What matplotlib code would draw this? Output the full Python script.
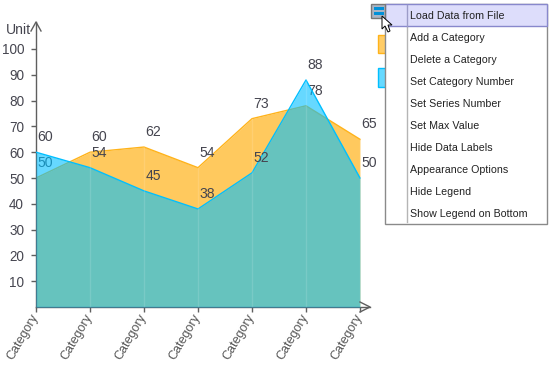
import matplotlib
matplotlib.use('Agg')
import matplotlib.pyplot as plt
from matplotlib.patches import Polygon, Rectangle
from matplotlib.transforms import ScaledTranslation

categories = ['Category'] * 7
orange_values = [50, 60, 62, 54, 73, 78, 65]
blue_values = [60, 54, 45, 38, 52, 88, 50]
y_ticks = [10, 20, 30, 40, 50, 60, 70, 80, 90, 100]
menu_items = ['Load Data from File', 'Add a Category', 'Delete a Category',
              'Set Category Number', 'Set Series Number', 'Set Max Value',
              'Hide Data Labels', 'Appearance Options', 'Hide Legend',
              'Show Legend on Bottom']

W, H = 550, 366
PX = 0.72  # points per pixel at dpi 100
AXIS = '#5f5f5f'
TEXT = '#45454f'

plt.rcParams['font.family'] = ['Liberation Sans', 'DejaVu Sans']

fig = plt.figure(figsize=(W / 100, H / 100), dpi=100, facecolor='white')

# chart area, axis runs from x=36 to x=370 and y=307 to y=22 in pixels
ax = fig.add_axes([36 / W, (H - 307) / H, 334 / W, 285 / H])
x = list(range(len(categories)))
ax.set_xlim(0, 334 / 54)
ax.set_ylim(0, 285 / 2.58)

ax.fill_between(x, orange_values, color='#FFB31A', alpha=0.7, lw=0, zorder=2)
ax.plot(x, orange_values, color='#FFB31A', lw=1, zorder=2.1)
ax.fill_between(x, blue_values, color='#00BFFF', alpha=0.6, lw=0, zorder=3)
ax.plot(x, blue_values, color='#00BFFF', lw=1, zorder=3.1)

# faint category lines over the areas
for i, c in enumerate(x[1:]):
    ax.plot([c, c], [0, max(orange_values[i + 1], blue_values[i + 1])],
            color='white', alpha=0.13, lw=1, zorder=4)

# orange labels sit under the blue area, blue labels on top
for ys, z in ((orange_values, 2.5), (blue_values, 6)):
    for a, b in zip(x, ys):
        ax.annotate(str(b), (a, b), xytext=(9 * PX, 15 * PX), textcoords='offset points',
                    ha='center', va='center', fontsize=14 * PX, color=TEXT, zorder=z,
                    annotation_clip=False)

ax.set_xticks(x)
ax.set_xticklabels(categories, rotation=60, ha='right', va='top',
                   rotation_mode='anchor', fontsize=12.5 * PX, color='#555555')
ax.set_yticks(y_ticks)
ax.set_yticklabels([str(t) for t in y_ticks], fontsize=13.5 * PX, color=TEXT)
ax.tick_params(axis='y', length=5 * PX, width=1, color=AXIS, pad=5)
ax.tick_params(axis='x', length=5 * PX, width=1, color=AXIS, pad=2)
# pull the rotated labels back towards their ticks, has to come after tick_params
shift = ScaledTranslation(-6 / 100, 3 / 100, fig.dpi_scale_trans)
for lab in ax.get_xticklabels():
    lab.set_transform(lab.get_transform() + shift)
for side in ('top', 'right'):
    ax.spines[side].set_visible(False)
for side in ('left', 'bottom'):
    ax.spines[side].set_color(AXIS)
    ax.spines[side].set_linewidth(1)
ax.patch.set_alpha(0)

# overlay in pixel coordinates for arrows, legend swatches and the popup menu
ov = fig.add_axes([0, 0, 1, 1], zorder=10)
ov.set_xlim(0, W)
ov.set_ylim(H, 0)
ov.axis('off')

ov.plot([31, 36, 41], [31, 22, 31], color=AXIS, lw=1)
ov.plot([360, 370, 360], [302, 307, 312], color=AXIS, lw=1)
ov.text(6, 30, 'Unit', fontsize=14 * PX, color=TEXT, va='center')

# legend swatches, mostly hidden by the menu
ov.add_patch(Rectangle((378, 35), 10, 18, fc='#FFCC66', ec='#FFB31A', lw=1))
ov.add_patch(Rectangle((378, 68), 10, 19, fc='#66D9FF', ec='#00BFFF', lw=1))

# menu
ov.add_patch(Rectangle((385, 4), 162, 220, fc='white', ec='#8a8a8a', lw=1, zorder=2))
ov.plot([407, 407], [5, 222], color='#b5b5b5', lw=1, zorder=3)
ov.add_patch(Rectangle((385, 4), 162, 22, fc='#DDDDFB', ec='#8888CC', lw=1, zorder=3))
ov.plot([407, 407], [5, 26], color='#9c9cc8', lw=1, zorder=4)
for i, item in enumerate(menu_items):
    ov.text(410, 16 + i * 22, item, fontsize=10.6 * PX, color='#222222',
            va='center', zorder=5, family=['Liberation Sans', 'DejaVu Sans'])

# menu button and mouse pointer
ov.add_patch(Rectangle((371, 4), 14, 14, fc='#a9b4c4', ec='#777777', lw=1, zorder=6))
ov.add_patch(Rectangle((374, 7), 10, 3, fc='#0090d8', lw=0, zorder=7))
ov.add_patch(Rectangle((374, 12), 10, 3, fc='#0090d8', lw=0, zorder=7))
ov.add_patch(Polygon([(382, 16), (382, 29), (385, 26), (388, 32), (390, 31), (388, 25), (392, 25)],
                     closed=True, fc='white', ec='black', lw=0.7, zorder=8))

fig.savefig('out.png', dpi=100)
